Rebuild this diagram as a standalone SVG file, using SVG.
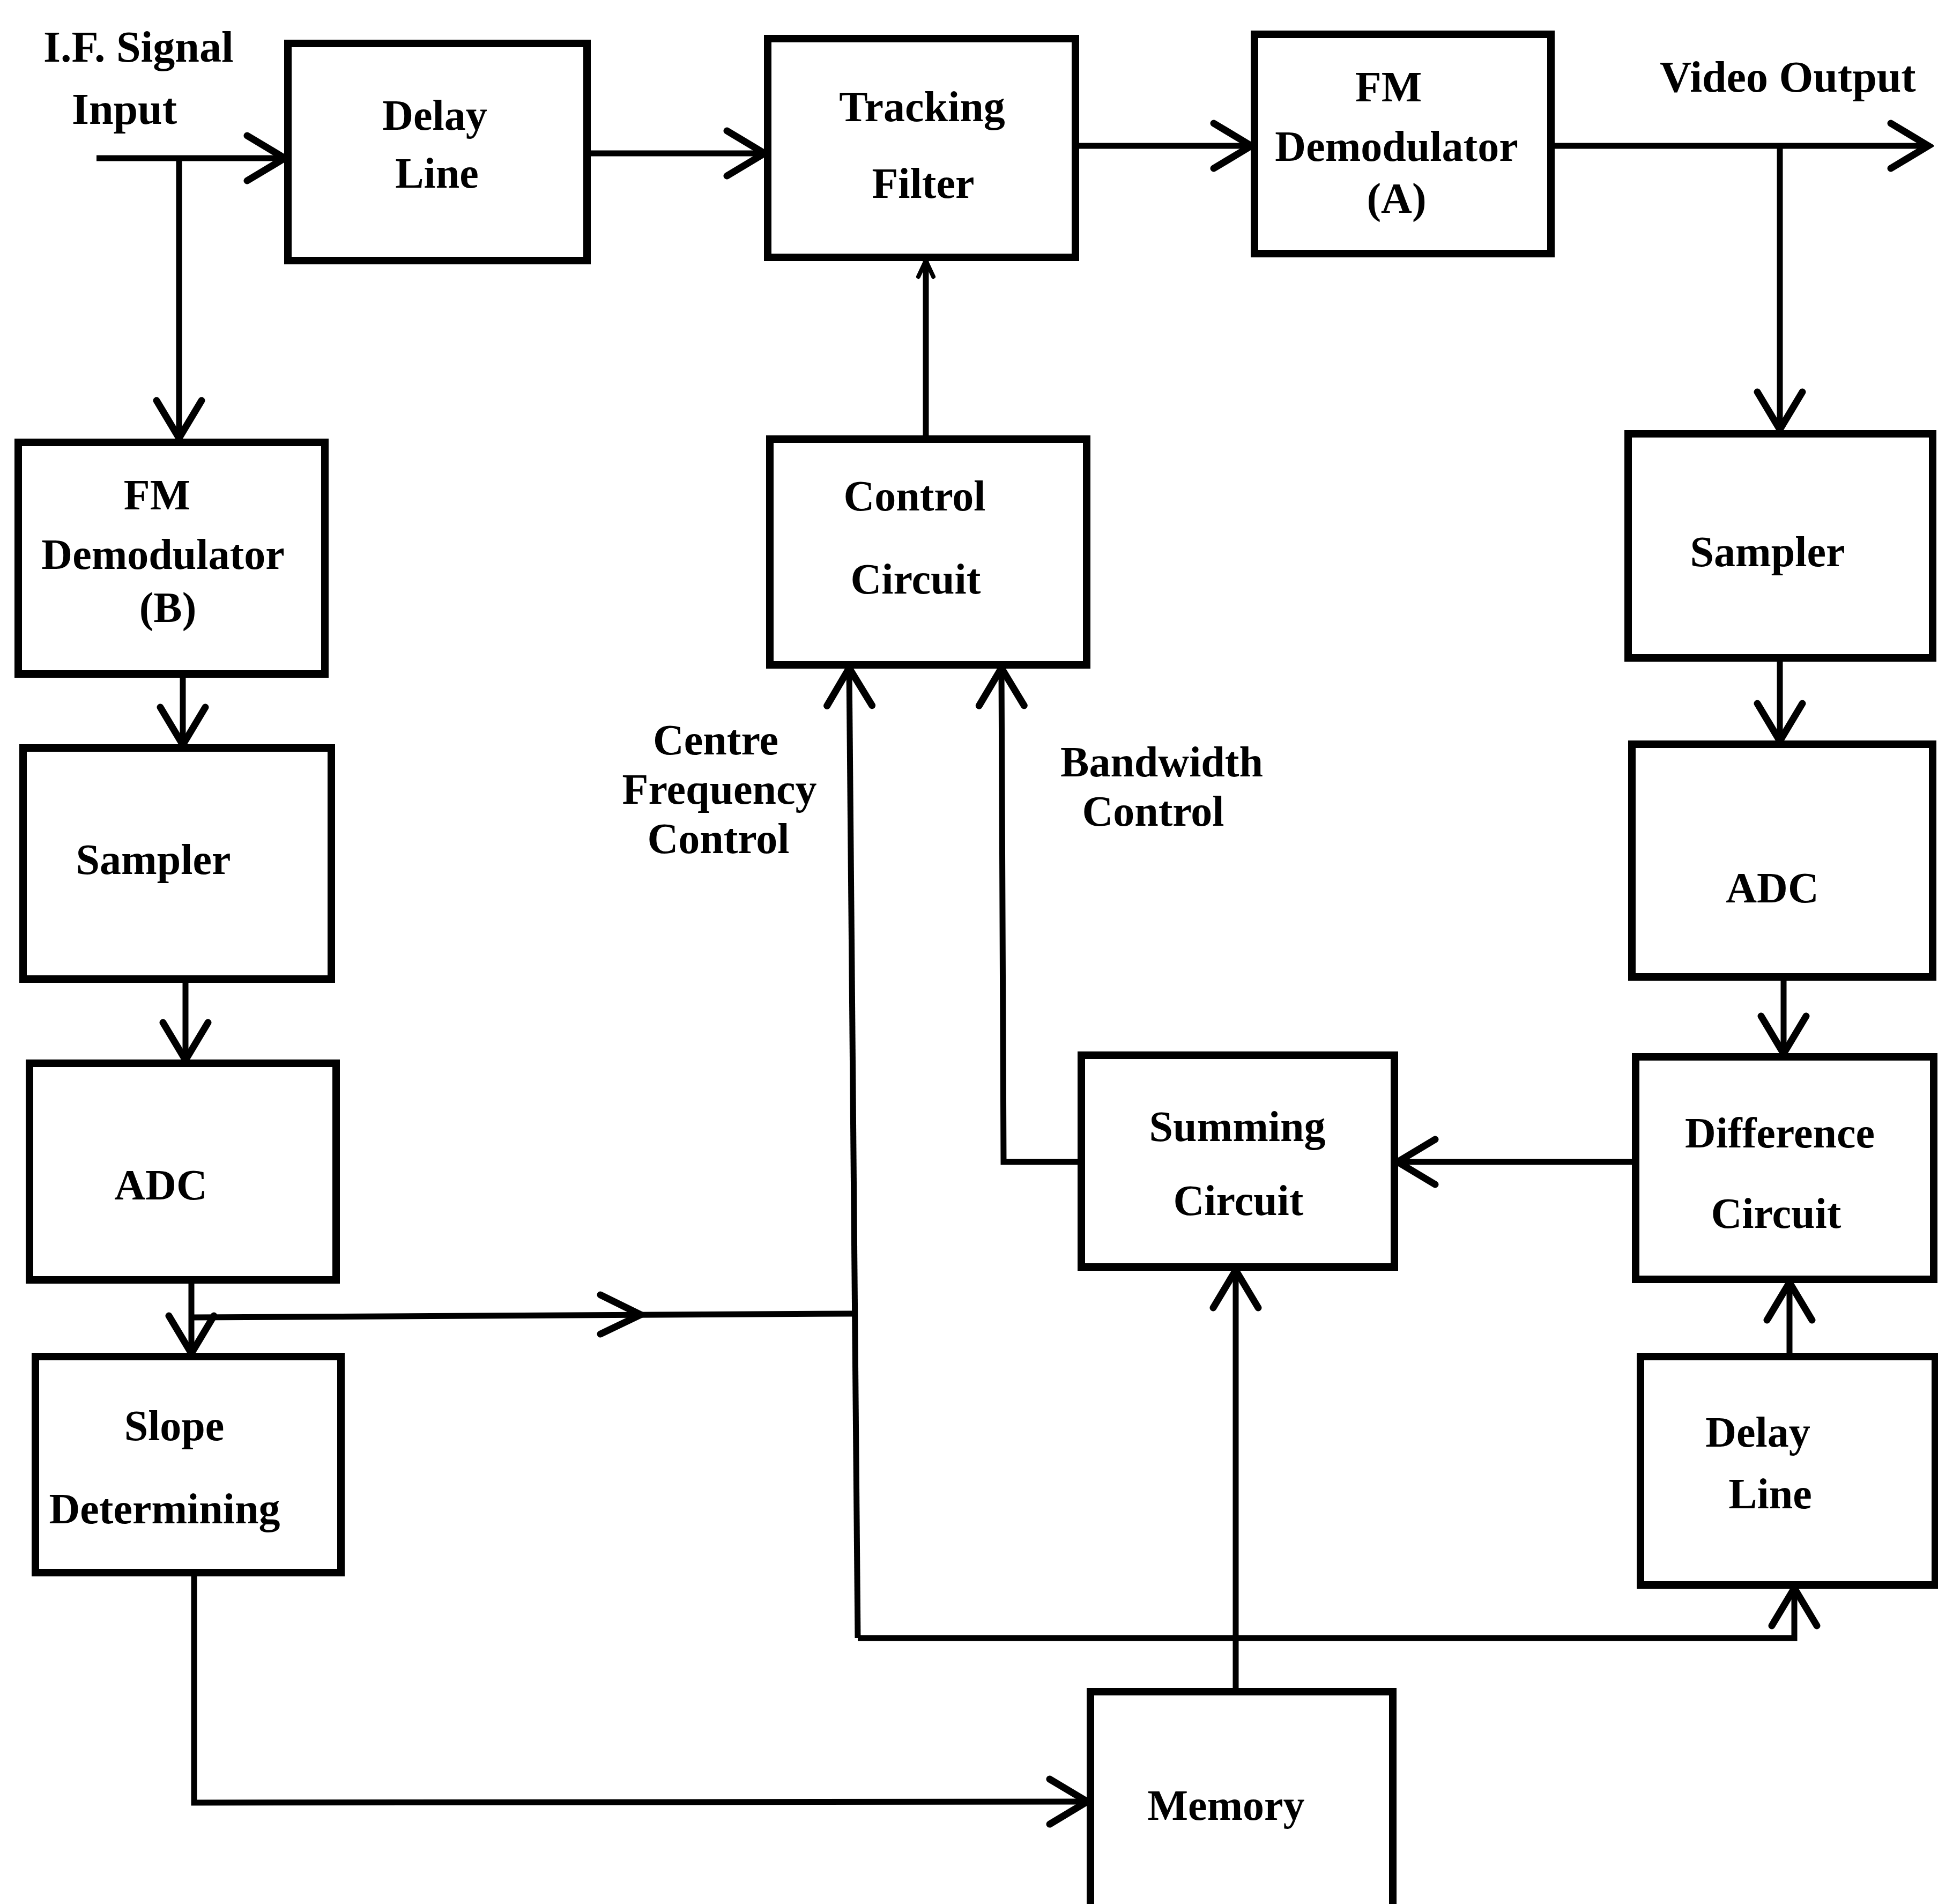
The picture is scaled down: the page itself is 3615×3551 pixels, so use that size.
<svg xmlns="http://www.w3.org/2000/svg" width="3615" height="3551" viewBox="0 0 3615 3551">
<style>
.box{fill:#fff;stroke:#000;stroke-width:14;stroke-linejoin:miter}
.t{font-family:"Liberation Serif","Times New Roman",serif;font-weight:bold;font-size:80px;fill:#000;text-anchor:middle}
.tl{font-family:"Liberation Serif","Times New Roman",serif;font-weight:bold;font-size:82px;fill:#000}
.c{fill:none;stroke:#000;stroke-width:11;stroke-linejoin:miter}
.ah{fill:none;stroke:#000;stroke-width:13;stroke-linecap:round;stroke-linejoin:miter}
</style>
<defs>
<marker id="arr" markerUnits="userSpaceOnUse" viewBox="-80 -50 90 100" refX="0" refY="0" markerWidth="90" markerHeight="100" orient="auto">
<path d="M-70,-42 L0,0 L-70,42" fill="none" stroke="#000" stroke-width="13" stroke-linecap="round"/>
</marker>
<marker id="arrs" markerUnits="userSpaceOnUse" viewBox="-40 -30 50 60" refX="0" refY="0" markerWidth="50" markerHeight="60" orient="auto">
<path d="M-30,-14 L0,0 L-30,14" fill="none" stroke="#000" stroke-width="8" stroke-linecap="round"/>
</marker>
</defs>
<rect width="3615" height="3551" fill="#fff"/>

<g id="connectors">
<path class="c" d="M180,295 L531,295" marker-end="url(#arr)"/>
<path class="c" d="M334,295 L334,817" marker-end="url(#arr)"/>
<path class="c" d="M1095,286 L1426,286" marker-end="url(#arr)"/>
<path class="c" d="M2006,272 L2334,272" marker-end="url(#arr)"/>
<path class="c" d="M2893,272 L3597,272" marker-end="url(#arr)"/>
<path class="c" d="M3320,272 L3320,801" marker-end="url(#arr)"/>
<path class="c" d="M341,1257 L341,1389" marker-end="url(#arr)"/>
<path class="c" d="M346,1826 L346,1977" marker-end="url(#arr)"/>
<path class="c" d="M357,2387 L357,2524" marker-end="url(#arr)"/>
<path class="c" d="M3320,1227 L3320,1382" marker-end="url(#arr)"/>
<path class="c" d="M3327,1822 L3327,1965" marker-end="url(#arr)"/>
<path class="c" d="M3338,2530 L3338,2392" marker-end="url(#arr)"/>
<path class="c" d="M3050,2167 L2607,2167" marker-end="url(#arr)"/>
<path class="c" d="M2017,2167 L1872,2167 L1868,1246" marker-end="url(#arr)"/>
<path class="c" d="M1727,819 L1727,486" marker-end="url(#arrs)"/>
<path class="c" d="M357,2457 L1590,2450"/>
<path class="ah" d="M1120,2415 L1195,2452 L1120,2488"/>
<path class="c" d="M1600,3055 L1584,1246" marker-end="url(#arr)"/>
<path class="c" d="M1600,3055 L3347,3055 L3347,2962" marker-end="url(#arr)"/>
<path class="c" d="M362,2933 L362,3362 L2028,3360" marker-end="url(#arr)"/>
<path class="c" d="M2305,3152 L2305,2369" marker-end="url(#arr)"/>
</g>

<g id="label-if">
<text class="tl" x="81" y="115">I.F. Signal</text>
<text class="tl" x="134" y="231">Input</text>
</g>
<g id="label-video">
<text class="tl" x="3096" y="171">Video Output</text>
</g>
<g id="label-cfc">
<text class="t" x="1335" y="1407">Centre</text>
<text class="t" x="1342" y="1499">Frequency</text>
<text class="t" x="1340" y="1591">Control</text>
</g>
<g id="label-bw">
<text class="t" x="2167" y="1448">Bandwidth</text>
<text class="t" x="2151" y="1540">Control</text>
</g>

<g id="delay-line-top">
<rect class="box" x="537" y="81" width="558" height="405"/>
<text class="t" x="811" y="242">Delay</text>
<text class="t" x="815" y="350">Line</text>
</g>
<g id="tracking-filter">
<rect class="box" x="1432" y="72" width="574" height="408"/>
<text class="t" x="1720" y="226">Tracking</text>
<text class="t" x="1722" y="369">Filter</text>
</g>
<g id="fm-demod-a">
<rect class="box" x="2340" y="64" width="553" height="409"/>
<text class="t" x="2590" y="189">FM</text>
<text class="t" x="2605" y="300">Demodulator</text>
<text class="t" x="2605" y="397">(A)</text>
</g>
<g id="fm-demod-b">
<rect class="box" x="34" y="825" width="572" height="432"/>
<text class="t" x="293" y="950">FM</text>
<text class="t" x="304" y="1061">Demodulator</text>
<text class="t" x="313" y="1160">(B)</text>
</g>
<g id="sampler-left">
<rect class="box" x="43" y="1395" width="575" height="431"/>
<text class="t" x="286" y="1630">Sampler</text>
</g>
<g id="adc-left">
<rect class="box" x="55" y="1983" width="572" height="404"/>
<text class="t" x="300" y="2237">ADC</text>
</g>
<g id="slope-determining">
<rect class="box" x="66" y="2530" width="570" height="403"/>
<text class="t" x="325" y="2686">Slope</text>
<text class="t" x="307" y="2841">Determining</text>
</g>
<g id="control-circuit">
<rect class="box" x="1436" y="819" width="591" height="421"/>
<text class="t" x="1706" y="952">Control</text>
<text class="t" x="1708" y="1107">Circuit</text>
</g>
<g id="sampler-right">
<rect class="box" x="3037" y="809" width="568" height="418"/>
<text class="t" x="3297" y="1056">Sampler</text>
</g>
<g id="adc-right">
<rect class="box" x="3044" y="1388" width="561" height="434"/>
<text class="t" x="3306" y="1683">ADC</text>
</g>
<g id="difference-circuit">
<rect class="box" x="3051" y="1971" width="556" height="415"/>
<text class="t" x="3320" y="2140">Difference</text>
<text class="t" x="3313" y="2290">Circuit</text>
</g>
<g id="delay-line-right">
<rect class="box" x="3060" y="2530" width="550" height="426"/>
<text class="t" x="3279" y="2698">Delay</text>
<text class="t" x="3302" y="2813">Line</text>
</g>
<g id="summing-circuit">
<rect class="box" x="2017" y="1968" width="584" height="395"/>
<text class="t" x="2308" y="2128">Summing</text>
<text class="t" x="2310" y="2266">Circuit</text>
</g>
<g id="memory">
<rect class="box" x="2034" y="3155" width="564" height="420"/>
<text class="t" x="2287" y="3394">Memory</text>
</g>
</svg>
